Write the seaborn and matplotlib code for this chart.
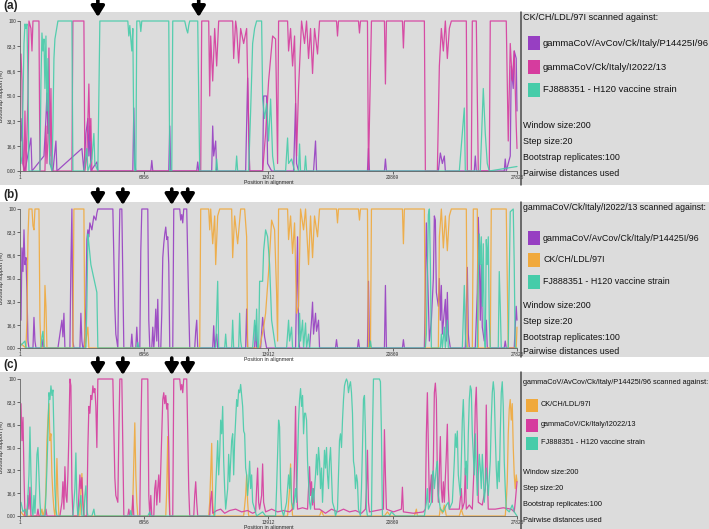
import matplotlib
matplotlib.use("Agg")
import matplotlib.pyplot as plt
import pandas as pd
import seaborn as sns
from matplotlib.patches import Rectangle
from matplotlib.lines import Line2D

sns.set_theme(style="white")
plt.rcParams["font.family"] = ["Liberation Sans", "DejaVu Sans"]

W, H = 709, 529

# ---------------- axis ticks ----------------
X_TICKS = [1, 6956, 13912, 20869, 27825]
Y_TICKS = [0, 16.6, 33.3, 50.0, 66.6, 83.3, 100]
Y_TICK_LABELS = ["0.00", "16,6", "33,3", "50.0", "66,6", "83,3", "100"]

# ---------------- sequence names ----------------
NAME_P14425 = "gammaCoV/AvCov/Ck/Italy/P14425I/96"
NAME_I2022 = "gammaCoV/Ck/Italy/I2022/13"
NAME_LDL = "CK/CH/LDL/97I"
NAME_H120 = "FJ888351 - H120 vaccine strain"
INFO_LINES = ["Window size:200", "Step size:20", "Bootstrap replicates:100", "Pairwise distances used"]

# recombination breakpoints marked by arrows (alignment position)
ARROWS_A = [4360, 10006]
ARROWS_BC = [4360, 5758, 8497, 9391]

# ---------------- panel (a): query CK/CH/LDL/97I ----------------
A_P14425 = [(56,20),(112,35),(168,5),(279,0),(615,22),(671,0),(1342,10),(1453,35),(1509,52),(1565,25),(1621,40),(1677,5),(1845,0),(2012,20),(2068,0),(3466,15),(3578,0),(3689,25),(3801,35),(3857,10),(3913,30),(3969,0),(4304,6),(4360,0),(6317,0),(6373,42),(6428,5),(6484,0),(7323,0),(7379,7),(7435,0),(8329,0),(8385,30),(8441,0),(9894,0),(9950,6),(10006,0),(10733,0),(10789,30),(10845,10),(10956,20),(11012,0),(12633,0),(12745,62),(12801,30),(12857,0),(13584,0),(13640,50),(13807,50),(13863,5),(14087,0),(15317,0),(15428,45),(15484,5),(15596,0),(16435,0),(16546,20),(16602,0),(19453,0),(19509,15),(19565,0),(20403,0),(20459,8),(20515,0),(23422,0),(23534,12),(23646,5),(23757,10),(23813,0),(25434,0),(25490,10),(25546,0),(27111,0),(27167,8),(27223,0),(27447,10),(27503,70),(27615,55),(27670,80),(27782,75),(27825,40)]
A_I2022 = [(56,78),(112,60),(168,5),(224,0),(279,40),(335,0),(447,50),(503,100),(615,95),(671,80),(727,100),(1062,100),(1118,0),(1398,0),(1453,30),(1509,5),(1565,20),(1621,82),(1677,10),(1733,55),(1789,0),(2907,0),(2963,100),(3578,100),(3634,0),(3745,10),(3857,58),(3913,20),(3969,35),(4025,0),(10118,0),(10174,100),(10565,100),(10621,50),(10677,90),(10789,60),(10900,95),(11012,70),(11124,100),(11907,100),(11963,75),(12074,100),(12130,95),(12242,72),(12354,95),(12522,85),(12689,95),(12801,30),(12857,0),(13584,0),(13751,25),(13919,60),(14143,90),(14310,88),(14422,5),(14478,100),(14981,100),(15037,80),(15149,95),(15261,70),(15372,90),(15484,10),(15596,55),(15764,100),(15931,85),(16043,100),(16155,75),(16267,95),(16379,65),(16490,95),(16658,78),(16770,100),(17720,100),(17776,90),(17832,100),(18950,100),(19006,92),(19062,100),(19453,100),(19509,0),(19677,100),(20403,100),(20459,58),(20515,100),(21410,100),(21466,82),(21521,100),(22639,100),(22695,0),(23366,0),(23478,70),(23590,95),(23702,80),(23813,100),(23925,75),(24037,95),(24149,100),(24987,100),(25043,0),(25267,0),(25323,100),(25546,100),(25658,0),(26273,0),(26329,100),(27223,100),(27335,20),(27447,85),(27559,60),(27670,80),(27782,30),(27825,15)]
A_H120 = [(56,5),(112,10),(224,85),(279,98),(335,95),(391,98),(447,60),(503,0),(1118,0),(1174,60),(1230,92),(1286,80),(1342,88),(1398,55),(1453,90),(1509,40),(1565,75),(1621,30),(1677,5),(1789,0),(1845,30),(1901,75),(1956,88),(2012,92),(2124,100),(2907,100),(2963,0),(3578,0),(3745,15),(3801,0),(4025,8),(4137,25),(4192,5),(4360,0),(4472,100),(6037,100),(6093,90),(6149,97),(6205,88),(6261,80),(6317,95),(6373,20),(6428,0),(6484,0),(6540,100),(6708,100),(6764,93),(6820,100),(8329,100),(8385,0),(8497,0),(8553,100),(9223,100),(9335,94),(9391,92),(9447,97),(9503,100),(9950,100),(10062,0),(10956,0),(11012,8),(11068,0),(12074,0),(12130,10),(12186,0),(12801,0),(12913,40),(13025,85),(13136,95),(13248,100),(13528,100),(13584,48),(13695,35),(13807,45),(13919,20),(14031,48),(14143,10),(14254,0),(14869,0),(14981,22),(15037,5),(15205,8),(15372,0),(15596,0),(15652,18),(15708,0),(15931,0),(15987,10),(16043,0),(24596,0),(24875,42),(24931,0),(25770,0),(25938,55),(26049,25),(26161,5),(26273,0),(27825,3)]

# ---------------- panel (b): query gammaCoV/Ck/Italy/I2022/13 ----------------
B_P14425 = [(56,20),(112,72),(168,55),(224,85),(279,60),(335,65),(391,40),(447,5),(503,0),(727,0),(783,22),(838,5),(894,0),(1230,0),(1286,6),(1342,0),(2124,0),(2236,10),(2348,20),(2404,8),(2460,25),(2515,0),(2795,0),(2851,60),(2907,100),(2963,5),(3019,0),(3354,0),(3410,25),(3466,5),(3522,0),(3578,0),(3634,10),(3689,30),(3745,78),(3801,85),(3857,80),(3913,90),(4025,85),(4137,95),(4248,92),(4304,97),(4360,100),(5199,100),(5310,30),(5366,10),(5478,0),(5534,60),(5590,100),(5702,100),(5814,0),(6205,0),(6261,10),(6317,0),(6484,0),(6540,15),(6596,0),(6708,0),(6764,70),(6820,100),(7155,100),(7211,20),(7267,0),(7379,0),(7435,15),(7491,0),(7546,10),(7602,28),(7658,5),(7714,35),(7770,0),(7882,0),(7938,25),(7994,65),(8050,75),(8105,82),(8161,87),(8217,78),(8273,80),(8329,60),(8385,0),(8553,0),(8609,100),(8944,100),(9000,92),(9056,96),(9112,90),(9168,100),(9335,100),(9447,30),(9503,0),(9782,0),(9838,12),(9894,20),(9950,0),(10789,0),(10845,16),(10900,0),(11012,10),(11068,0),(12633,0),(12689,28),(12745,0),(13136,0),(13192,16),(13248,0),(13472,0),(13584,22),(13695,8),(13807,0),(15428,0),(15540,80),(15596,10),(15652,0),(16211,0),(16323,20),(16379,33),(16435,10),(16546,25),(16602,12),(16714,20),(16770,0),(17664,0),(17720,6),(17776,0),(18894,0),(18950,6),(19006,0),(19453,0),(19509,48),(19565,0),(20403,0),(20459,45),(20515,0),(21410,0),(21466,6),(21521,0),(22639,0),(22695,40),(22751,90),(22807,60),(22919,5),(23031,20),(23143,50),(23198,95),(23254,92),(23310,40),(23422,30),(23478,50),(23534,20),(23590,45),(23646,10),(23813,35),(23869,5),(23925,40),(23981,10),(24093,0),(24931,0),(25043,58),(25099,10),(25155,0),(25490,0),(25602,40),(25658,94),(25714,70),(25770,20),(25826,60),(25882,15),(25993,5),(26105,20),(26161,0),(27111,0),(27167,5),(27223,0),(27670,0),(27782,30),(27825,20)]
B_LDL = [(56,3),(335,0),(391,20),(447,80),(503,100),(671,100),(727,88),(783,85),(838,100),(1062,100),(1118,20),(1174,0),(1342,0),(1398,45),(1453,30),(1509,0),(2963,0),(3019,100),(3578,100),(3634,0),(3689,5),(3801,15),(3857,0),(10062,0),(10118,100),(10565,100),(10621,85),(10677,100),(10789,75),(10900,95),(10956,60),(11068,95),(11180,100),(11851,100),(11907,65),(12018,95),(12186,75),(12354,100),(12577,100),(12689,80),(12745,0),(13416,0),(13640,15),(13751,25),(13919,55),(14087,92),(14254,85),(14366,40),(14422,5),(14478,100),(14981,100),(15037,78),(15149,95),(15261,68),(15372,90),(15484,25),(15596,30),(15708,100),(15876,85),(15987,100),(16155,60),(16267,95),(16379,65),(16490,95),(16658,80),(16770,100),(17720,100),(17776,90),(17832,100),(18950,100),(19006,92),(19062,100),(19453,100),(19509,0),(19621,0),(19677,100),(21410,100),(21466,75),(21521,100),(22639,100),(22695,0),(23422,0),(23478,80),(23590,100),(23702,72),(23813,95),(23925,70),(24037,95),(24149,100),(24987,100),(25043,0),(25323,0),(25379,100),(25602,100),(25658,0),(26329,0),(26385,100),(27223,100),(27335,0),(27782,0),(27825,15)]
B_H120 = [(56,2),(279,5),(335,0),(1174,0),(1230,8),(1286,12),(1342,0),(3689,0),(3745,30),(3801,82),(3857,75),(3969,60),(4137,50),(4304,40),(4360,0),(6540,0),(6596,4),(6652,0),(10956,0),(11068,48),(11124,0),(11459,0),(11515,10),(11571,0),(11851,0),(11907,20),(11963,0),(12242,0),(12298,25),(12354,5),(12410,0),(13025,0),(13136,20),(13192,5),(13248,28),(13304,0),(13360,0),(13416,48),(13584,48),(13640,70),(13751,85),(13863,80),(13975,60),(14087,20),(14199,10),(14310,0),(14925,0),(15037,20),(15093,5),(15205,15),(15261,0),(15596,0),(15652,25),(15708,5),(15820,20),(15876,0),(15987,18),(16043,0),(16155,10),(16211,0),(19565,0),(19621,5),(19677,0),(22695,0),(22751,10),(22863,96),(22919,100),(22975,60),(23031,0),(23534,0),(23590,10),(23646,0),(23757,15),(23813,0),(23925,20),(23981,0),(24764,0),(24875,45),(24931,10),(24987,0),(25602,0),(25658,50),(25714,82),(25770,60),(25826,80),(25882,30),(25938,75),(25993,10),(26049,0),(26105,78),(26161,60),(26217,80),(26273,20),(26329,0),(26776,0),(26832,55),(26888,30),(26944,0),(27335,0),(27391,50),(27447,98),(27615,100),(27670,60),(27726,0),(27825,0)]

# ---------------- panel (c): query gammaCoV/AvCov/Ck/Italy/P14425I/96 ----------------
C_LDL = [(56,3),(224,0),(335,5),(391,0),(1118,0),(1230,5),(1286,0),(1398,5),(1453,20),(1509,55),(1565,70),(1621,82),(1677,55),(1733,60),(1789,30),(1845,15),(1901,5),(1956,0),(2012,10),(2068,42),(2124,15),(2180,0),(3354,0),(3410,18),(3466,31),(3522,10),(3578,0),(6261,0),(6317,10),(6373,40),(6428,68),(6484,30),(6540,10),(6596,0),(8161,0),(8217,20),(8273,58),(8329,15),(8385,0),(10565,0),(10621,10),(10733,53),(10789,10),(10845,0),(12522,0),(12633,15),(12689,30),(12745,10),(12801,0),(14981,0),(15093,20),(15149,38),(15205,10),(15261,0),(16770,0),(16882,4),(16994,0),(20403,0),(20571,3),(20739,0),(22080,0),(22192,5),(22248,0),(23478,0),(23534,6),(23646,2),(23757,8),(23869,0),(24596,0),(24708,5),(24820,0),(27167,0),(27223,10),(27279,25),(27335,60),(27391,78),(27447,85),(27503,70),(27559,82),(27615,50),(27670,30),(27726,20),(27782,30),(27825,25)]
C_I2022 = [(56,82),(112,55),(168,72),(224,30),(279,0),(391,0),(447,15),(503,5),(559,21),(615,0),(950,0),(1006,5),(1062,0),(1398,0),(1453,5),(1509,0),(2236,0),(2348,10),(2404,25),(2460,5),(2515,36),(2571,15),(2627,10),(2683,30),(2739,60),(2795,100),(2851,95),(2907,20),(2963,0),(3242,0),(3298,15),(3354,30),(3410,20),(3466,28),(3522,10),(3578,0),(3745,0),(3801,50),(3857,80),(3913,75),(3969,88),(4025,85),(4081,95),(4137,90),(4192,93),(4248,80),(4304,50),(4360,100),(5199,100),(5310,28),(5366,15),(5478,10),(5534,60),(5590,100),(5702,100),(5814,0),(6037,0),(6093,5),(6149,0),(6261,0),(6317,15),(6373,0),(6708,0),(6764,60),(6820,100),(7155,100),(7211,15),(7267,0),(7323,15),(7379,0),(7491,0),(7546,20),(7602,26),(7658,8),(7714,20),(7770,30),(7826,10),(7882,35),(7938,60),(7994,85),(8050,90),(8105,82),(8161,88),(8217,78),(8273,82),(8329,50),(8385,0),(8553,0),(8609,100),(8944,100),(9000,92),(9056,96),(9112,90),(9168,100),(9335,100),(9447,20),(9503,0),(9727,0),(9782,15),(9838,25),(9894,10),(9950,0),(10621,0),(10677,12),(10733,18),(10789,2),(11012,4),(11236,5),(11459,2),(11739,4),(12074,5),(12410,3),(12745,4),(13025,2),(13192,3),(13248,20),(13304,35),(13360,10),(13416,5),(13528,15),(13584,38),(13640,10),(13751,3),(14087,5),(14422,3),(14758,4),(15093,3),(15261,5),(15317,10),(15372,40),(15428,80),(15484,20),(15540,5),(15820,6),(16099,5),(16155,20),(16211,36),(16267,15),(16323,25),(16379,8),(16435,20),(16490,5),(16770,5),(17105,2),(17441,5),(17776,3),(18112,5),(18447,3),(18782,4),(19118,2),(19341,5),(19397,20),(19453,48),(19509,10),(19565,3),(19956,4),(20348,5),(20403,63),(20459,30),(20515,5),(20907,3),(21354,5),(21410,21),(21466,3),(22025,2),(22584,3),(22695,5),(22751,60),(22807,90),(22863,50),(22919,10),(23031,30),(23087,10),(23143,40),(23198,90),(23254,97),(23310,85),(23366,30),(23422,10),(23478,35),(23534,58),(23590,20),(23646,10),(23702,25),(23757,10),(23869,45),(23925,67),(23981,20),(24037,5),(24316,5),(24596,5),(24708,20),(24764,5),(24875,10),(24931,35),(24987,5),(25155,8),(25323,5),(25434,40),(25490,80),(25546,94),(25602,60),(25658,10),(25882,8),(26049,20),(26105,81),(26161,30),(26217,5),(26608,5),(27056,6),(27503,5),(27670,3),(27726,10),(27782,19),(27825,25)]
C_H120 = [(56,10),(168,3),(279,5),(391,0),(503,30),(559,65),(615,30),(671,5),(727,0),(783,15),(838,2),(894,20),(950,45),(1006,50),(1062,30),(1118,10),(1174,0),(1398,0),(1453,15),(1509,35),(1565,60),(1621,90),(1677,85),(1733,95),(1789,88),(1845,92),(1901,60),(1956,20),(2012,5),(2068,0),(2963,0),(3074,20),(3130,46),(3186,10),(3242,0),(3410,15),(3466,0),(3578,0),(3634,15),(3689,22),(3745,5),(3801,0),(4025,0),(4137,5),(4192,0),(6149,0),(6205,4),(6261,0),(7155,0),(7267,3),(7323,0),(10900,0),(10956,20),(11068,55),(11124,30),(11180,45),(11236,70),(11292,60),(11348,80),(11404,40),(11459,20),(11515,5),(11627,20),(11683,45),(11739,25),(11795,40),(11851,55),(11907,60),(11963,30),(12018,55),(12074,70),(12130,85),(12186,80),(12242,92),(12298,90),(12354,96),(12410,88),(12466,80),(12522,62),(12577,60),(12633,35),(12689,30),(12745,15),(12801,25),(12857,40),(12913,20),(12969,30),(13025,10),(13136,5),(13248,0),(13584,3),(13751,0),(14310,0),(14366,20),(14478,70),(14534,65),(14590,20),(14646,5),(14758,0),(14925,10),(15037,30),(15093,20),(15149,35),(15205,10),(15317,5),(15428,20),(15484,10),(15540,40),(15596,70),(15652,85),(15708,93),(15764,80),(15820,88),(15876,60),(15931,75),(15987,75),(16043,70),(16099,40),(16155,25),(16211,10),(16267,5),(16379,20),(16435,10),(16546,30),(16602,45),(16658,30),(16714,50),(16770,40),(16826,20),(16882,35),(16938,10),(17049,48),(17105,35),(17161,50),(17217,30),(17273,20),(17329,40),(17385,50),(17441,30),(17497,10),(17608,5),(17664,0),(17776,5),(17832,30),(17888,55),(17944,60),(18000,50),(18056,70),(18112,85),(18167,95),(18223,98),(18279,100),(18335,98),(18391,90),(18447,95),(18503,98),(18559,90),(18615,75),(18671,40),(18726,35),(18782,20),(18838,30),(18894,25),(18950,5),(19062,0),(19118,20),(19174,50),(19230,85),(19285,88),(19341,60),(19397,5),(19453,0),(19677,0),(19733,60),(19789,100),(20124,100),(20180,98),(20236,60),(20292,0),(20683,0),(20795,3),(21018,0),(22639,0),(22751,10),(22807,20),(22863,5),(23031,10),(23087,30),(23143,33),(23198,20),(23310,35),(23366,40),(23422,15),(23534,5),(23702,3),(23869,8),(23981,10),(24037,5),(24205,10),(24316,40),(24372,60),(24428,50),(24484,62),(24540,30),(24652,15),(24708,40),(24764,70),(24820,85),(24875,60),(24931,30),(24987,40),(25043,20),(25099,60),(25155,85),(25211,95),(25267,92),(25323,60),(25379,45),(25434,30),(25490,60),(25546,35),(25602,15),(25658,30),(25714,45),(25770,35),(25826,20),(25882,45),(25938,30),(25993,10),(26049,20),(26105,35),(26217,15),(26329,40),(26385,70),(26441,90),(26497,98),(26552,90),(26608,60),(26664,35),(26720,20),(26776,40),(26832,25),(26888,60),(26944,90),(27000,98),(27056,80),(27111,40),(27167,20),(27223,5),(27391,3),(27559,8),(27670,3),(27825,0)]

# ---------------- styling ----------------
COLORS = {NAME_P14425: "#973FC2", NAME_I2022: "#D63C9E", NAME_LDL: "#F0A93C", NAME_H120: "#46CCA9"}
GRAY = "#DCDCDC"

PANELS = [
    dict(tag="(a)", query=NAME_LDL,
         series=[(NAME_P14425, A_P14425), (NAME_I2022, A_I2022), (NAME_H120, A_H120)],
         band=(12, 185), box=(21, 171), tag_y=6, arrows=ARROWS_A, arrow_y=(0, 17),
         title_y=18, entry_y=[43, 67, 90], info_y=[125, 141, 157, 173],
         title_fs=6.6, entry_fs=6.8, info_fs=6.4, patch_x=528, patch_h=14),
    dict(tag="(b)", query=NAME_I2022,
         series=[(NAME_P14425, B_P14425), (NAME_LDL, B_LDL), (NAME_H120, B_H120)],
         band=(202, 357), box=(209, 348), tag_y=195, arrows=ARROWS_BC, arrow_y=(189, 205),
         title_y=208, entry_y=[238, 260, 282], info_y=[306, 321, 337, 352],
         title_fs=6.3, entry_fs=6.4, info_fs=6.4, patch_x=528, patch_h=14),
    dict(tag="(c)", query=NAME_P14425,
         series=[(NAME_LDL, C_LDL), (NAME_I2022, C_I2022), (NAME_H120, C_H120)],
         band=(372, 529), box=(379, 516), tag_y=365, arrows=ARROWS_BC, arrow_y=(358, 375),
         title_y=382, entry_y=[405, 425, 443], info_y=[473, 488, 504, 520],
         title_fs=5.3, entry_fs=5.3, info_fs=5.3, patch_x=526, patch_h=13),
]

AX_LEFT, AX_RIGHT, SEP_X = 20, 517, 521


def fx(px):
    return px / W


def fy(py):
    return 1 - py / H


fig = plt.figure(figsize=(W / 100, H / 100), dpi=100)
fig.patch.set_facecolor("white")

for p in PANELS:
    top, bottom = p["band"]
    fig.add_artist(Rectangle((0, fy(bottom)), 1, (bottom - top) / H, transform=fig.transFigure,
                             facecolor=GRAY, edgecolor="none", zorder=-10))
    fig.add_artist(Line2D([fx(SEP_X)] * 2, [fy(bottom), fy(top)], transform=fig.transFigure,
                          color="#4a4a4a", lw=1.1))

    ytop, ybot = p["box"]
    ax = fig.add_axes([fx(AX_LEFT), fy(ybot), (AX_RIGHT - AX_LEFT) / W, (ybot - ytop) / H])
    ax.set_facecolor("none")
    for name, pairs in p["series"]:
        df = pd.DataFrame(pairs, columns=["position", "support"])
        sns.lineplot(data=df, x="position", y="support", color=COLORS[name], lw=0.9,
                     estimator=None, sort=False, legend=False, ax=ax)
    for ln in ax.lines:
        ln.set_clip_on(False)
        ln.set_alpha(0.9)
    ax.set_xlim(1, 27825)
    ax.set_ylim(0, 100)
    ax.set_xticks(X_TICKS)
    ax.set_xticklabels([str(v) for v in X_TICKS], fontsize=3.4)
    ax.set_yticks(Y_TICKS)
    ax.set_yticklabels(Y_TICK_LABELS, fontsize=3.4)
    ax.tick_params(bottom=True, left=True, length=2, width=0.5, pad=1, colors="#333333")
    ax.set_xlabel("Position in alignment", fontsize=3.8, labelpad=0, color="#222222")
    ax.set_ylabel("Bootstrap support (%)", fontsize=3.8, labelpad=2, color="#222222")
    for s in ("top", "right"):
        ax.spines[s].set_visible(False)
    for s in ("left", "bottom"):
        ax.spines[s].set_color("#666666")
        ax.spines[s].set_linewidth(0.6)

    tail, tip = p["arrow_y"]
    for xpos in p["arrows"]:
        ax.annotate("", xy=(xpos, fy(tip)), xytext=(xpos, fy(tail)),
                    xycoords=("data", "figure fraction"), textcoords=("data", "figure fraction"),
                    arrowprops=dict(arrowstyle="-|>,head_length=0.45,head_width=0.28", lw=2.6,
                                    color="black", shrinkA=0, shrinkB=0, mutation_scale=14),
                    annotation_clip=False)

    fig.text(fx(3), fy(p["tag_y"]), p["tag"], fontsize=8.5, fontweight="bold", va="center", ha="left")

    fig.text(fx(523), fy(p["title_y"]), p["query"] + " scanned against:", fontsize=p["title_fs"],
             va="center", ha="left", color="#111111")
    ph = p["patch_h"]
    for (name, _), ey in zip(p["series"], p["entry_y"]):
        fig.add_artist(Rectangle((fx(p["patch_x"]), fy(ey + ph / 2)), 12 / W, ph / H,
                                 transform=fig.transFigure, facecolor=COLORS[name], edgecolor="none"))
        fig.text(fx(p["patch_x"] + 15), fy(ey), name, fontsize=p["entry_fs"], va="center", ha="left",
                 color="#111111")
    for txt, iy in zip(INFO_LINES, p["info_y"]):
        fig.text(fx(523), fy(iy), txt, fontsize=p["info_fs"], va="center", ha="left", color="#111111")

fig.savefig("out.png", dpi=100, facecolor="white")
